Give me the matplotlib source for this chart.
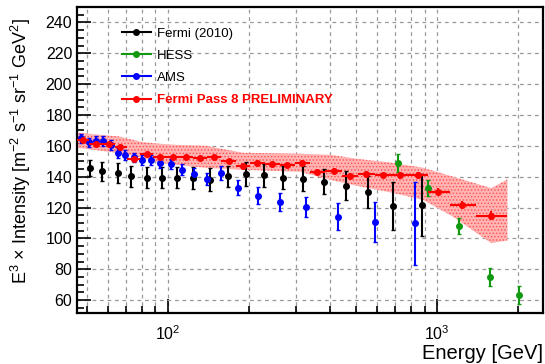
import numpy as np
import matplotlib
matplotlib.use("Agg")
import matplotlib.pyplot as plt
from matplotlib.lines import Line2D
from matplotlib.ticker import MultipleLocator, LogLocator, NullFormatter

plt.rcParams['font.family'] = ['Liberation Sans', 'DejaVu Sans']
plt.rcParams['mathtext.fontset'] = 'custom'
plt.rcParams['mathtext.rm'] = 'Liberation Sans'
plt.rcParams['mathtext.it'] = 'Liberation Sans:italic'
plt.rcParams['mathtext.bf'] = 'Liberation Sans:bold'
plt.rcParams['hatch.color'] = '#ff5050'
plt.rcParams['hatch.linewidth'] = 0.6

# Fermi (2010)
fermi_e = [51.2, 57.2, 65.1, 73.3, 83.4, 94.8, 108.6, 124.6, 144, 168, 196, 228.6,
           268.9, 319, 381.6, 460, 556, 689, 881]
fermi_i = [145.6, 143.4, 142.4, 140.2, 139.5, 139.5, 139.5, 139.1, 138, 140.2, 141.7,
           140.8, 139.5, 138.7, 136.9, 134.3, 130, 121.3, 121.8]
fermi_err = [5.4, 6, 6.5, 7, 7, 7, 7, 7, 7.5, 7, 8, 7.3, 7.3, 8, 8, 9.4, 10.3, 15.5, 20]

# HESS
hess_e = [716.5, 930.6, 1210, 1577, 2021]
hess_i = [148.8, 132.8, 108.2, 75.1, 63.6]
hess_err = [5.7, 5.1, 5.1, 5.8, 5.9]

# AMS
ams_e = [47.8, 50.9, 54.1, 57.5, 61.3, 65.2, 69.2, 74.8, 80.3, 86.5, 93.9, 102.6,
         113.1, 124.9, 140.1, 158.2, 182.5, 216.6, 260.5, 326.5, 427.6, 586.8, 826]
ams_i = [164.8, 162.2, 163.3, 162.9, 160.7, 155.3, 154.2, 152.5, 151, 151, 148.8, 148.2,
         144.5, 141.9, 138.7, 142.4, 133, 127.8, 123.9, 120.3, 114.2, 110.6, 109.9]
ams_err = [3.2, 3.2, 3.2, 3.2, 3.2, 3.2, 3.2, 3.2, 3.3, 3.3, 3.4, 3.5, 3.6, 3.8, 4,
           4.3, 4.9, 5.6, 5.8, 6.6, 8.9, 12.9, 27]

# Fermi Pass 8 preliminary
p8_e = [48.3, 54.1, 60.4, 66.7, 74.8, 83.4, 93.4, 104.7, 117.3, 132.2, 148.2, 168.4,
        190.5, 214.7, 244.1, 277.5, 315.5, 359.5, 413.3, 473.9, 546.8, 630.4, 726.6,
        854.5, 1013.7, 1238, 1590]
p8_i = [163.5, 161.4, 161.4, 159, 151.4, 154.7, 153.1, 152.7, 152.7, 152.1, 152.9, 150.5,
        147.1, 149.2, 148.4, 147.7, 149.2, 143, 144, 140.6, 141.7, 140.8, 140.8, 140.8,
        130.4, 121.6, 114.7]
p8_err = [1.2, 1.2, 1.2, 1.2, 1.2, 1.2, 1.2, 1.2, 1.2, 1.2, 1.3, 1.3, 1.3, 1.4, 1.4,
          1.5, 1.5, 1.6, 1.6, 1.7, 1.8, 1.9, 2, 2.1, 2.2, 2.4, 2.8]
p8_last_edge = 1823

# systematic band
band_e = [46.2, 65.7, 80.3, 92.4, 106.8, 138, 191, 310.9, 401.8, 505.8, 671, 889,
          1151, 1593, 1830]
band_hi = [168.5, 166.1, 162.5, 161.4, 160.7, 160.1, 155.5, 154.9, 154.2, 151.6, 149.2,
           145.8, 140, 132.6, 138.3]
band_lo = [158.8, 155.3, 152.3, 149.2, 147.7, 145.8, 144.5, 143.2, 138, 134.1, 129.9,
           125, 114, 97, 98.7]

fig = plt.figure(figsize=(5.45, 3.64), dpi=100)
ax = fig.add_axes([0.1413, 0.1393, 0.855, 0.8415])

ax.fill_between(band_e, band_lo, band_hi, facecolor='#ffb3b3', edgecolor='none',
                hatch='.....', lw=0, zorder=1)

# bin edges of the Pass 8 points
e = np.array(p8_e)
mids = np.sqrt(e[:-1] * e[1:])
lo_edges = np.concatenate([[e[0] ** 2 / mids[0]], mids])
hi_edges = np.concatenate([mids, [p8_last_edge]])
xerr = [e - lo_edges, hi_edges - e]

ax.errorbar(fermi_e, fermi_i, yerr=fermi_err, fmt='o', color='black', ms=4,
            elinewidth=1.5, capsize=1.5, zorder=3)
ax.errorbar(hess_e, hess_i, yerr=hess_err, fmt='o', color='#119911', ms=4,
            elinewidth=1.5, capsize=1.5, zorder=3)
ax.errorbar(ams_e, ams_i, yerr=ams_err, fmt='o', color='blue', ms=4,
            elinewidth=1.5, capsize=1.5, zorder=3)
ax.errorbar(p8_e, p8_i, yerr=p8_err, xerr=xerr, fmt='o', color='red', ms=4,
            elinewidth=1.5, capsize=0, zorder=4)

ax.set_xscale('log')
ax.set_xlim(46, 2480)
ax.set_ylim(51.5, 250)

ax.yaxis.set_major_locator(MultipleLocator(20))
ax.yaxis.set_minor_locator(MultipleLocator(5))
ax.xaxis.set_major_locator(LogLocator(base=10))
ax.xaxis.set_minor_locator(LogLocator(base=10, subs=np.arange(2, 10)))
ax.xaxis.set_minor_formatter(NullFormatter())

ax.grid(True, which='major', axis='y', color='#999999', ls=(0, (3, 3)), lw=0.9)
ax.grid(True, which='both', axis='x', color='#999999', ls=(0, (3, 3)), lw=0.9)
ax.set_axisbelow(True)

ax.tick_params(which='both', direction='in', top=False, right=False, labelsize=11.5,
               width=1.2)
ax.tick_params(axis='y', which='major', length=10)
ax.tick_params(axis='y', which='minor', length=5)
ax.tick_params(axis='x', which='major', length=10, pad=8)
ax.tick_params(axis='x', which='minor', length=5)
for s in ax.spines.values():
    s.set_linewidth(1.6)

ax.set_ylabel('E$^{3}$ × Intensity [m$^{-2}$ s$^{-1}$ sr$^{-1}$ GeV$^{2}$]', fontsize=13)
ax.yaxis.set_label_coords(-0.094, 0.53)
ax.set_xlabel('Energy [GeV]', fontsize=14.5, loc='right', labelpad=1)

handles = [
    Line2D([], [], color='black', marker='o', ms=4, lw=1.5),
    Line2D([], [], color='#119911', marker='o', ms=4, lw=1.5),
    Line2D([], [], color='blue', marker='o', ms=4, lw=1.5),
    Line2D([], [], color='red', marker='o', ms=4, lw=1.5),
]
labels = ['Fermi (2010)', 'HESS', 'AMS', 'Fermi Pass 8 PRELIMINARY']
leg = ax.legend(handles, labels, loc='upper left', bbox_to_anchor=(0.096, 0.933),
                frameon=False, fontsize=9.5, handlelength=2.2, handletextpad=0.5,
                labelspacing=0.75, borderpad=0, borderaxespad=0)
leg.get_texts()[3].set_color('red')
leg.get_texts()[3].set_fontweight('bold')

fig.savefig('out.png', dpi=100)
